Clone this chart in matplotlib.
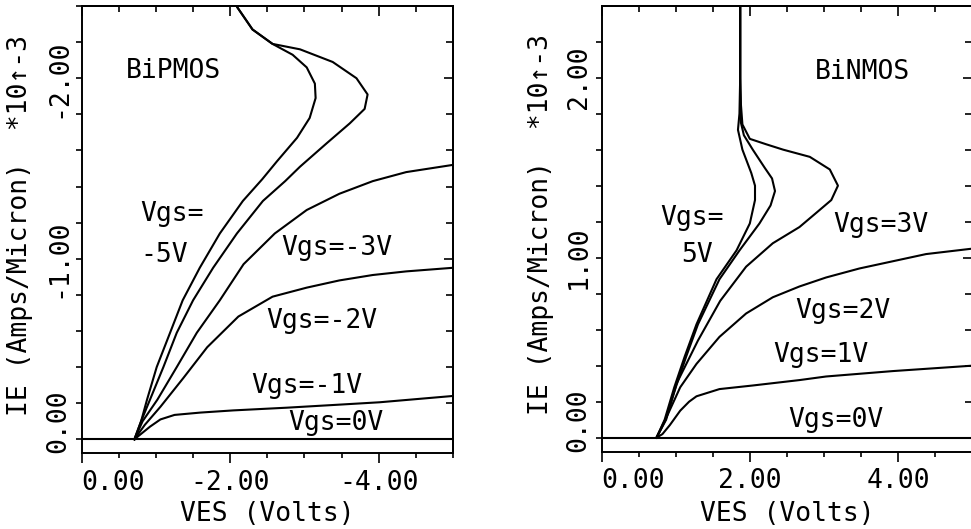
import matplotlib
matplotlib.use('Agg')
import matplotlib.pyplot as plt
from matplotlib.ticker import MultipleLocator
from matplotlib.transforms import ScaledTranslation

plt.rcParams['font.family'] = ['DejaVu Sans Mono', 'DejaVu Sans']
plt.rcParams['font.size'] = 19
plt.rcParams['axes.unicode_minus'] = False

# ---- BiPMOS (left), VES in volts, IE in 1e-3 A/micron (both negative)
p_vgs0_v = [0.0, -5.0]
p_vgs0_i = [0.0, 0.0]
p_vgs1_v = [-0.71, -0.80, -0.92, -1.06, -1.25, -1.60, -2.04, -2.76, -3.39, -4.01, -5.0]
p_vgs1_i = [0.0, -0.03, -0.07, -0.11, -0.135, -0.148, -0.16, -0.175, -0.19, -0.205, -0.24]
p_vgs2_v = [-0.71, -0.85, -1.06, -1.37, -1.69, -2.11, -2.57, -3.03, -3.47, -3.92, -4.37, -5.0]
p_vgs2_i = [0.0, -0.08, -0.18, -0.34, -0.51, -0.68, -0.79, -0.84, -0.88, -0.91, -0.93, -0.95]
p_vgs3_v = [-0.71, -0.82, -1.02, -1.28, -1.55, -1.86, -2.18, -2.60, -3.03, -3.47, -3.92, -4.37, -5.0]
p_vgs3_i = [0.0, -0.10, -0.22, -0.40, -0.59, -0.77, -0.97, -1.14, -1.27, -1.36, -1.43, -1.48, -1.52]
p_vgs4_v = [-0.71, -0.80, -0.92, -1.10, -1.28, -1.50, -1.77, -2.09, -2.44, -2.74, -2.94, -3.30,
            -3.61, -3.81, -3.85, -3.70, -3.38, -2.94, -2.57, -2.30, -2.10, -2.00]
p_vgs4_i = [0.0, -0.10, -0.22, -0.40, -0.59, -0.77, -0.95, -1.14, -1.32, -1.43, -1.51, -1.64,
            -1.75, -1.83, -1.91, -2.00, -2.09, -2.16, -2.19, -2.27, -2.39, -2.46]
p_vgs5_v = [-0.71, -0.80, -0.88, -1.01, -1.19, -1.36, -1.59, -1.86, -2.17, -2.43, -2.63, -2.90,
            -3.07, -3.15, -3.14, -3.03, -2.84, -2.57, -2.30, -2.10, -2.00]
p_vgs5_i = [0.0, -0.10, -0.22, -0.40, -0.59, -0.77, -0.95, -1.14, -1.32, -1.44, -1.54, -1.67,
            -1.78, -1.89, -1.97, -2.06, -2.13, -2.19, -2.27, -2.39, -2.46]

# ---- BiNMOS (right)
n_vgs0_v = [0.0, 5.0]
n_vgs0_i = [0.0, 0.0]
n_vgs1_v = [0.74, 0.82, 0.92, 1.06, 1.18, 1.28, 1.59, 2.04, 2.67, 3.03, 3.93, 5.0]
n_vgs1_i = [0.0, 0.02, 0.07, 0.15, 0.20, 0.23, 0.27, 0.29, 0.32, 0.34, 0.37, 0.40]
n_vgs2_v = [0.74, 0.86, 1.06, 1.28, 1.59, 1.95, 2.31, 2.67, 3.03, 3.48, 3.93, 4.38, 5.0]
n_vgs2_i = [0.0, 0.10, 0.28, 0.41, 0.56, 0.69, 0.78, 0.84, 0.89, 0.94, 0.98, 1.02, 1.05]
n_vgs3_v = [0.74, 0.87, 1.01, 1.30, 1.60, 1.95, 2.31, 2.67, 2.90, 3.10, 3.19, 3.08, 2.81, 2.45,
            2.22, 2.00, 1.90, 1.88, 1.87, 1.87]
n_vgs3_i = [0.0, 0.10, 0.30, 0.54, 0.76, 0.95, 1.08, 1.17, 1.25, 1.32, 1.40, 1.49, 1.56, 1.60,
            1.63, 1.66, 1.74, 1.85, 2.00, 2.45]
n_vgs4_v = [0.74, 0.86, 1.00, 1.14, 1.30, 1.59, 1.86, 2.13, 2.28, 2.34, 2.30, 2.20, 2.04, 1.92,
            1.88, 1.87, 1.87]
n_vgs4_i = [0.0, 0.10, 0.28, 0.45, 0.63, 0.88, 1.04, 1.19, 1.29, 1.37, 1.44, 1.50, 1.60, 1.68,
            1.75, 2.00, 2.45]
n_vgs5_v = [0.74, 0.85, 0.98, 1.12, 1.28, 1.55, 1.82, 2.00, 2.07, 2.07, 2.02, 1.90, 1.84, 1.86,
            1.87, 1.87]
n_vgs5_i = [0.0, 0.10, 0.28, 0.45, 0.63, 0.88, 1.04, 1.19, 1.32, 1.40, 1.47, 1.60, 1.71, 1.80,
            2.00, 2.45]

p_xticks = [0.0, -2.0, -4.0]
p_xticklabels = ['0.00', '-2.00', '-4.00']
p_yticks = [0.0, -1.0, -2.0]
p_yticklabels = ['0.00', '-1.00', '-2.00']
n_xticks = [0.0, 2.0, 4.0]
n_xticklabels = ['0.00', '2.00', '4.00']
n_yticks = [0.0, 1.0, 2.0]
n_yticklabels = ['0.00', '1.00', '2.00']

ylabel = 'IE (Amps/Micron)  *10\u2191-3'
xlabel = 'VES (Volts)'

fig = plt.figure(figsize=(9.71, 5.29), dpi=100)
axL = fig.add_axes([81.7 / 971, (529 - 453.3) / 529, 371.3 / 971, 447.3 / 529])
axR = fig.add_axes([601.7 / 971, (529 - 451.7) / 529, 370.3 / 971, 445.7 / 529])

LW = 1.5


def setup(ax, xlim, ylim, xt, xtl, yt, ytl):
    ax.set_xlim(xlim)
    ax.set_ylim(ylim)
    for s in ax.spines.values():
        s.set_linewidth(1.4)
    ax.set_xticks(xt, xtl)
    ax.set_yticks(yt, ytl)
    ax.xaxis.set_minor_locator(MultipleLocator(0.5))
    ax.yaxis.set_minor_locator(MultipleLocator(0.2))
    ax.tick_params(which='both', direction='out', width=1.2, top=False, right=False)
    ax.tick_params(axis='x', which='major', length=7, pad=5)
    ax.tick_params(axis='x', which='minor', length=3.5)
    ax.tick_params(axis='y', which='both', length=4.3, pad=3)
    for lab in ax.get_yticklabels():
        lab.set_rotation(90)
        lab.set_va('center')
    # top ticks (inward)
    top = ax.secondary_xaxis('top')
    top.set_xticks(xt)
    top.xaxis.set_minor_locator(MultipleLocator(0.5))
    top.tick_params(which='both', direction='in', width=1.2, labeltop=False, labelbottom=False)
    top.tick_params(which='major', length=7)
    top.tick_params(which='minor', length=4.3)
    top.spines['top'].set_linewidth(1.4)
    # right ticks (inward)
    rgt = ax.secondary_yaxis('right')
    rgt.set_yticks(yt)
    rgt.yaxis.set_minor_locator(MultipleLocator(0.2))
    rgt.tick_params(which='both', direction='in', width=1.2, labelright=False, labelleft=False)
    rgt.tick_params(which='major', length=6.5)
    rgt.tick_params(which='minor', length=5)
    rgt.spines['right'].set_linewidth(1.4)
    # first labels sit flush with the axis corner
    xl0 = ax.get_xticklabels()[0]
    xl0.set_ha('left')
    yl0 = ax.get_yticklabels()[0]
    yl0.set_va('bottom')
    yl0.set_transform(yl0.get_transform() + ScaledTranslation(0, -0.14, fig.dpi_scale_trans))
    ax.set_xlabel(xlabel)
    ax.set_ylabel(ylabel)
    ax.yaxis.label.set_va('center')
    ax.xaxis.label.set_va('center')


setup(axL, (0.0, -5.0), (0.0776, -2.40), p_xticks, p_xticklabels, p_yticks, p_yticklabels)
setup(axR, (0.0, 5.0), (-0.0778, 2.398), n_xticks, n_xticklabels, n_yticks, n_yticklabels)
axL.yaxis.set_label_coords(-0.166, 0.51)
axL.xaxis.set_label_coords(0.5, -0.136)
axR.yaxis.set_label_coords(-0.164, 0.51)
axR.xaxis.set_label_coords(0.5, -0.139)

for v, i in [(p_vgs0_v, p_vgs0_i), (p_vgs1_v, p_vgs1_i), (p_vgs2_v, p_vgs2_i),
             (p_vgs3_v, p_vgs3_i), (p_vgs4_v, p_vgs4_i), (p_vgs5_v, p_vgs5_i)]:
    axL.plot(v, i, color='black', lw=LW, solid_joinstyle='round')
for v, i in [(n_vgs0_v, n_vgs0_i), (n_vgs1_v, n_vgs1_i), (n_vgs2_v, n_vgs2_i),
             (n_vgs3_v, n_vgs3_i), (n_vgs4_v, n_vgs4_i), (n_vgs5_v, n_vgs5_i)]:
    axR.plot(v, i, color='black', lw=LW, solid_joinstyle='round')

# annotations
axL.text(-1.23, -2.04, 'BiPMOS', ha='center', va='center')
axL.text(-0.785, -1.211, 'Vgs=', ha='left', va='baseline')
axL.text(-0.785, -0.984, '-5V', ha='left', va='baseline')
axL.text(-2.69, -1.021, 'Vgs=-3V', ha='left', va='baseline')
axL.text(-2.49, -0.615, 'Vgs=-2V', ha='left', va='baseline')
axL.text(-2.29, -0.255, 'Vgs=-1V', ha='left', va='baseline')
axL.text(-2.78, -0.052, 'Vgs=0V', ha='left', va='baseline')

axR.text(2.88, 1.99, 'BiNMOS', ha='left', va='baseline')
axR.text(0.787, 1.181, 'Vgs=', ha='left', va='baseline')
axR.text(1.08, 0.978, '5V', ha='left', va='baseline')
axR.text(3.127, 1.144, 'Vgs=3V', ha='left', va='baseline')
axR.text(2.61, 0.663, 'Vgs=2V', ha='left', va='baseline')
axR.text(2.317, 0.422, 'Vgs=1V', ha='left', va='baseline')
axR.text(2.52, 0.061, 'Vgs=0V', ha='left', va='baseline')

fig.savefig('out.png', dpi=100)
